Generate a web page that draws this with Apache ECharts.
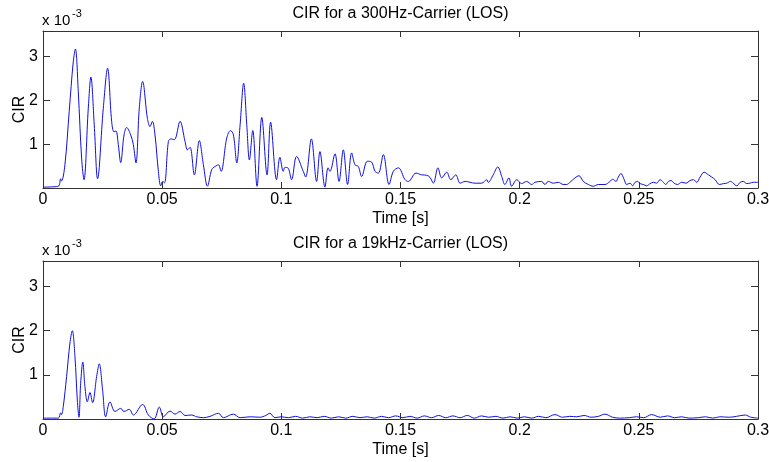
<!DOCTYPE html>
<html>
<head>
<meta charset="utf-8">
<script src="https://cdn.jsdelivr.net/npm/echarts@6.0.0/dist/echarts.min.js"></script>
<style>
html,body{margin:0;padding:0;background:#fff;}
#chart{width:769px;height:462px;}
</style>
</head>
<body>
<div id="chart"></div>
<script>
// Time axis tick values (s)
const xTicks = [0, 0.05, 0.1, 0.15, 0.2, 0.25, 0.3];
// y tick labels (units of 1e-3)
const yTicks = [1, 2, 3];

// 300 Hz carrier: time [s]
const t300 = [0, 0.0064, 0.0074, 0.0078, 0.0092, 0.011, 0.0127, 0.0136, 0.0148, 0.0162, 0.0172, 0.019, 0.0201, 0.0215, 0.0229, 0.0253, 0.0271, 0.0288, 0.0298, 0.0306, 0.0316, 0.0326, 0.034, 0.0351, 0.0368, 0.0379, 0.039, 0.0404, 0.0418, 0.0438, 0.0449, 0.0459, 0.047, 0.0484, 0.0494, 0.0502, 0.051, 0.0526, 0.0537, 0.0551, 0.0575, 0.0596, 0.0606, 0.0617, 0.0635, 0.0656, 0.0673, 0.069, 0.0708, 0.0722, 0.0736, 0.0747, 0.0771, 0.0787, 0.0799, 0.0813, 0.0827, 0.0842, 0.0855, 0.0866, 0.088, 0.0898, 0.0918, 0.094, 0.0955, 0.098, 0.0994, 0.1008, 0.1015, 0.1029, 0.1043, 0.1064, 0.1092, 0.1102, 0.1126, 0.1148, 0.1162, 0.1183, 0.1196, 0.1204, 0.1225, 0.1242, 0.126, 0.1278, 0.1295, 0.1309, 0.1323, 0.1337, 0.1361, 0.1379, 0.1393, 0.1407, 0.1428, 0.1452, 0.147, 0.1491, 0.1519, 0.1533, 0.1565, 0.1589, 0.161, 0.1624, 0.1638, 0.1657, 0.1673, 0.1694, 0.1711, 0.1732, 0.175, 0.1771, 0.1813, 0.1841, 0.1862, 0.1868, 0.1889, 0.1908, 0.1925, 0.1938, 0.1955, 0.1966, 0.1988, 0.2008, 0.2029, 0.2051, 0.2064, 0.2092, 0.2106, 0.212, 0.2141, 0.2162, 0.2183, 0.2197, 0.2211, 0.2232, 0.2249, 0.2267, 0.2288, 0.2309, 0.233, 0.2358, 0.2379, 0.239, 0.2404, 0.2414, 0.2425, 0.2438, 0.2449, 0.2463, 0.2474, 0.2484, 0.2495, 0.2505, 0.2519, 0.2533, 0.2547, 0.2561, 0.2575, 0.2589, 0.2603, 0.2613, 0.2624, 0.2635, 0.2648, 0.2662, 0.268, 0.2698, 0.2715, 0.2729, 0.2743, 0.2757, 0.2774, 0.2792, 0.2806, 0.282, 0.2838, 0.2855, 0.2869, 0.2885, 0.2896, 0.2911, 0.2925, 0.2938, 0.2953, 0.2966, 0.298, 0.3];
// 300 Hz carrier: CIR (x 1e-3)
const cir300 = [0.02, 0.04, 0.21, 0.16, 0.53, 1.75, 2.88, 3.17, 2.2, 0.68, 0.19, 1.82, 2.53, 1.44, 0.21, 1.82, 2.73, 1.52, 1.28, 1.3, 0.99, 0.58, 1.21, 1.38, 1.21, 0.99, 0.57, 1.82, 2.43, 1.59, 1.4, 1.52, 1.21, 0.38, 0.05, 0.15, 0.12, 1.06, 1.12, 1.1, 1.52, 1.06, 0.87, 0.93, 0.3, 1.08, 0.53, 0.04, 0.42, 0.49, 0.53, 0.38, 1.14, 1.31, 1.21, 0.57, 1.44, 2.39, 1.44, 0.64, 1.31, 0.04, 1.61, 0.3, 1.5, 0.19, 0.7, 0.38, 0.47, 0.45, 0.19, 0.72, 0.38, 0.25, 1.12, 0.15, 0.83, 0.02, 0.46, 0.38, 0.78, 0.15, 0.87, 0.08, 0.8, 0.53, 0.49, 0.26, 0.61, 0.59, 0.38, 0.34, 0.76, 0.08, 0.38, 0.46, 0.19, 0.15, 0.34, 0.3, 0.29, 0.24, 0.11, 0.46, 0.23, 0.36, 0.19, 0.3, 0.11, 0.15, 0.11, 0.11, 0.19, 0.13, 0.3, 0.48, 0.26, 0.08, 0.23, 0.04, 0.19, 0.1, 0.15, 0.08, 0.13, 0.15, 0.08, 0.15, 0.11, 0.13, 0.08, 0.08, 0.13, 0.23, 0.28, 0.15, 0.08, 0.04, 0.08, 0.08, 0.15, 0.2, 0.15, 0.25, 0.33, 0.2, 0.08, 0.11, 0.05, 0.13, 0.15, 0.1, 0.08, 0.05, 0.1, 0.13, 0.11, 0.19, 0.13, 0.08, 0.15, 0.17, 0.11, 0.08, 0.13, 0.11, 0.17, 0.19, 0.13, 0.25, 0.36, 0.3, 0.25, 0.19, 0.08, 0.1, 0.11, 0.15, 0.11, 0.05, 0.13, 0.15, 0.1, 0.11, 0.13, 0.13];

// 19 kHz carrier: time [s]
const t19k = [0, 0.0064, 0.0074, 0.0078, 0.0085, 0.0099, 0.0113, 0.0123, 0.0134, 0.0144, 0.0151, 0.0158, 0.0167, 0.0176, 0.0186, 0.0197, 0.0208, 0.0225, 0.0236, 0.025, 0.0263, 0.0281, 0.0302, 0.0326, 0.034, 0.0362, 0.0379, 0.0418, 0.0442, 0.0466, 0.0488, 0.0505, 0.0533, 0.0554, 0.0575, 0.0596, 0.0624, 0.0645, 0.0673, 0.0701, 0.0736, 0.0757, 0.0798, 0.0827, 0.0869, 0.091, 0.0935, 0.0952, 0.0973, 0.1, 0.103, 0.106, 0.109, 0.112, 0.115, 0.118, 0.121, 0.124, 0.127, 0.13, 0.133, 0.136, 0.139, 0.142, 0.145, 0.148, 0.151, 0.154, 0.157, 0.16, 0.163, 0.166, 0.169, 0.172, 0.175, 0.178, 0.181, 0.184, 0.187, 0.19, 0.193, 0.196, 0.199, 0.202, 0.205, 0.208, 0.211, 0.2148, 0.218, 0.221, 0.224, 0.227, 0.23, 0.233, 0.2358, 0.239, 0.242, 0.246, 0.249, 0.252, 0.2554, 0.259, 0.262, 0.265, 0.268, 0.271, 0.275, 0.278, 0.281, 0.284, 0.288, 0.291, 0.2946, 0.297, 0.3];
// 19 kHz carrier: CIR (x 1e-3)
const cir19k = [0.02, 0.02, 0.14, 0.1, 0.28, 0.96, 1.72, 2.0, 1.42, 0.43, 0.04, 0.81, 1.29, 0.73, 0.39, 0.6, 0.37, 0.96, 1.25, 0.66, 0.05, 0.39, 0.17, 0.24, 0.17, 0.22, 0.09, 0.33, 0.09, 0.0, 0.27, 0.05, 0.18, 0.11, 0.17, 0.08, 0.09, 0.05, 0.03, 0.06, 0.13, 0.03, 0.11, 0.03, 0.05, 0.04, 0.08, 0.13, 0.03, 0.05, 0.03, 0.06, 0.02, 0.05, 0.03, 0.06, 0.02, 0.05, 0.02, 0.06, 0.03, 0.05, 0.02, 0.06, 0.03, 0.07, 0.03, 0.06, 0.02, 0.07, 0.03, 0.08, 0.03, 0.07, 0.03, 0.08, 0.02, 0.07, 0.04, 0.06, 0.02, 0.05, 0.02, 0.05, 0.02, 0.06, 0.03, 0.1, 0.04, 0.06, 0.05, 0.08, 0.04, 0.06, 0.11, 0.04, 0.02, 0.03, 0.05, 0.03, 0.1, 0.04, 0.07, 0.03, 0.05, 0.02, 0.03, 0.05, 0.02, 0.05, 0.04, 0.06, 0.09, 0.04, 0.02];

const titles = ['CIR for a 300Hz-Carrier (LOS)', 'CIR for a 19kHz-Carrier (LOS)'];

const FONT = '"Liberation Sans", Arial, sans-serif';
const FS = 16;
const AX = '#333';
const LINE = '#1010e0';

const chart = echarts.init(document.getElementById('chart'), null, {renderer: 'canvas'});

const grids = [
  {left: 43, right: 11, top: 31, height: 157, containLabel: false, outerBoundsMode: 'none'},
  {left: 43, right: 11, top: 261, height: 158, containLabel: false, outerBoundsMode: 'none'}
];

function xMain(g) {
  return {
    gridIndex: g, type: 'value', position: 'bottom', min: 0, max: 0.3, interval: 0.05,
    axisLine: {show: true, onZero: false, lineStyle: {color: AX, width: 1}},
    axisTick: {show: true, inside: true, length: 6, lineStyle: {color: AX}},
    axisLabel: {show: true, color: '#000', fontSize: FS, fontFamily: FONT, margin: 4,
      formatter: v => String(Math.round(v * 100) / 100)},
    splitLine: {show: false},
    name: 'Time [s]', nameLocation: 'middle', nameGap: 23, nameMoveOverlap: false,
    nameTextStyle: {color: '#000', fontSize: FS, fontFamily: FONT}
  };
}
function xTop(g) {
  return {
    gridIndex: g, type: 'value', position: 'top', min: 0, max: 0.3, interval: 0.05,
    axisLine: {show: true, onZero: false, lineStyle: {color: AX, width: 1}},
    axisTick: {show: true, inside: true, length: 6, lineStyle: {color: AX}},
    axisLabel: {show: false}, splitLine: {show: false}
  };
}
function yMain(g) {
  return {
    gridIndex: g, type: 'value', position: 'left', min: 0, max: 3.58, interval: 1,
    axisLine: {show: true, onZero: false, lineStyle: {color: AX, width: 1}},
    axisTick: {show: true, inside: true, length: 7, customValues: yTicks, lineStyle: {color: AX}},
    axisLabel: {show: true, color: '#000', fontSize: FS, fontFamily: FONT, margin: 5, customValues: yTicks},
    splitLine: {show: false},
    name: 'CIR', nameLocation: 'middle', nameGap: 15, nameRotate: 90, nameMoveOverlap: false,
    nameTextStyle: {color: '#000', fontSize: FS, fontFamily: FONT}
  };
}
function yRight(g) {
  return {
    gridIndex: g, type: 'value', position: 'right', min: 0, max: 3.58, interval: 1,
    axisLine: {show: true, onZero: false, lineStyle: {color: AX, width: 1}},
    axisTick: {show: true, inside: true, length: 7, customValues: yTicks, lineStyle: {color: AX}},
    axisLabel: {show: false}, splitLine: {show: false}
  };
}

function textEl(x, y, text, size, align) {
  return {type: 'text', x: x, y: y, silent: true,
    style: {text: text, fill: '#000', font: size + 'px ' + FONT, align: align || 'left', verticalAlign: 'top'}};
}

const option = {
  animation: false,
  backgroundColor: '#fff',
  grid: grids,
  xAxis: [xMain(0), xTop(0), xMain(1), xTop(1)],
  yAxis: [yMain(0), yRight(0), yMain(1), yRight(1)],
  series: [
    {type: 'line', xAxisIndex: 0, yAxisIndex: 0, showSymbol: false, smooth: 0.35,
     lineStyle: {color: LINE, width: 1}, data: t300.map((t, i) => [t, cir300[i]])},
    {type: 'line', xAxisIndex: 2, yAxisIndex: 2, showSymbol: false, smooth: 0.35,
     lineStyle: {color: LINE, width: 1}, data: t19k.map((t, i) => [t, cir19k[i]])}
  ],
  graphic: [
    textEl(400.5, 6, titles[0], FS, 'center'),
    textEl(400.5, 236, titles[1], FS, 'center'),
    textEl(42, 13, 'x 10', 15),
    textEl(72, 8, '-3', 11),
    textEl(42, 243, 'x 10', 15),
    textEl(72, 238, '-3', 11)
  ]
};
chart.setOption(option);
</script>
</body>
</html>
